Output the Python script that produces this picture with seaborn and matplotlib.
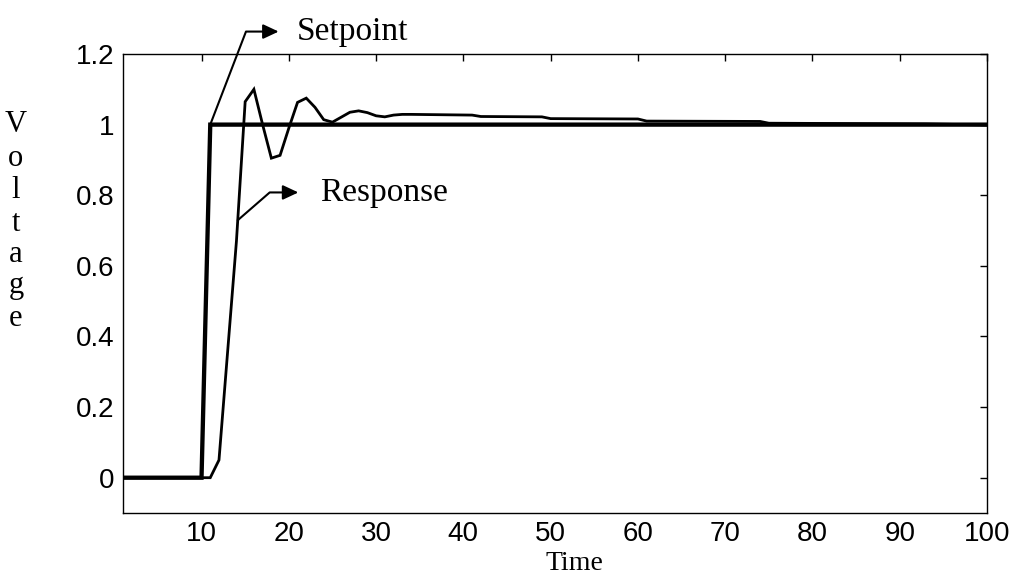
import numpy as np
import matplotlib
matplotlib.use("Agg")
import matplotlib.pyplot as plt
import seaborn as sns

# Step input (setpoint) and measured response of the loop
time_setpoint = [1, 10, 11, 100]
setpoint = [0.0, 0.0, 1.0, 1.0]

time_response = [1, 11, 12, 13, 14, 15, 16, 17, 18, 19, 20, 21, 22, 23, 24, 25,
                 26, 27, 28, 29, 30, 31, 32, 33, 34, 41, 42, 49, 50, 60, 61,
                 74, 75, 93, 100]
response = [0.0, 0.0, 0.05, 0.36, 0.67, 1.065, 1.10, 1.00, 0.905, 0.913, 0.99,
            1.063, 1.075, 1.049, 1.014, 1.007, 1.021, 1.035, 1.039, 1.034,
            1.025, 1.022, 1.027, 1.029, 1.029, 1.027, 1.023, 1.022, 1.017,
            1.016, 1.010, 1.009, 1.004, 1.002, 0.999]

x_ticks = [10, 20, 30, 40, 50, 60, 70, 80, 90, 100]
y_ticks = [0, 0.2, 0.4, 0.6, 0.8, 1.0, 1.2]
y_tick_labels = ["0", "0.2", "0.4", "0.6", "0.8", "1", "1.2"]
y_label_letters = list("Voltage")

sns.set_theme(style="white")
plt.rcParams["font.family"] = ["Liberation Sans", "DejaVu Sans"]

SERIF = ["Liberation Serif", "DejaVu Serif"]

fig = plt.figure(figsize=(10.18, 5.77), dpi=100)
ax = fig.add_axes([0.1208, 0.1109, 0.8488, 0.7955])

sns.lineplot(x=time_setpoint, y=setpoint, ax=ax, color="black", lw=3.1,
             estimator=None, sort=False)
sns.lineplot(x=time_response, y=response, ax=ax, color="black", lw=2.0,
             estimator=None, sort=False)
for ln in ax.get_lines():
    ln.set_solid_joinstyle("miter")

ax.set_xlim(1, 100)
ax.set_ylim(-0.1, 1.2)
ax.set_xticks(x_ticks)
ax.set_xticklabels([str(v) for v in x_ticks])
ax.set_yticks(y_ticks)
ax.set_yticklabels(y_tick_labels)
ax.tick_params(direction="in", top=True, right=True, length=5, width=1.0,
               labelsize=20, pad=6, colors="black")
for sp in ax.spines.values():
    sp.set_visible(True)
    sp.set_color("black")
    sp.set_linewidth(1.0)

ax.set_xlabel("Time", fontsize=20, family=SERIF, color="black")
ax.xaxis.set_label_coords(0.523, -0.082)
ax.set_ylabel("")

# Vertical, letter-by-letter axis title
baseline_px = [132, 166, 198, 231, 262, 293, 326]
for ch, ypx in zip(y_label_letters, baseline_px):
    fig.text(16 / 1018, 1 - ypx / 577, ch, fontsize=22, family=SERIF,
             ha="center", va="baseline", color="black")

arrow_style = "<|-,head_length=0.47,head_width=0.22"

# Callout for the setpoint step corner
ax.annotate("Setpoint", xy=(time_setpoint[2], setpoint[2]), xycoords="data",
            xytext=(62.6, 67), textcoords="offset points",
            ha="left", va="center", fontsize=24, family=SERIF, color="black",
            annotation_clip=False,
            arrowprops=dict(arrowstyle=arrow_style,
                            connectionstyle="angle,angleA=0,angleB=69,rad=0",
                            relpos=(0, 0.5), shrinkA=11, shrinkB=0,
                            lw=1.5, color="black", mutation_scale=20))

# Callout for the response curve on its rising edge
t_mark = 14.15
v_mark = float(np.interp(t_mark, time_response, response))
ax.annotate("Response", xy=(t_mark, v_mark), xycoords="data",
            xytext=(59, 20), textcoords="offset points",
            ha="left", va="center", fontsize=24, family=SERIF, color="black",
            annotation_clip=False,
            arrowprops=dict(arrowstyle=arrow_style,
                            connectionstyle="angle,angleA=0,angleB=41,rad=0",
                            relpos=(0, 0.5), shrinkA=13, shrinkB=0,
                            lw=1.5, color="black", mutation_scale=20))

fig.savefig("out.png", dpi=100)
